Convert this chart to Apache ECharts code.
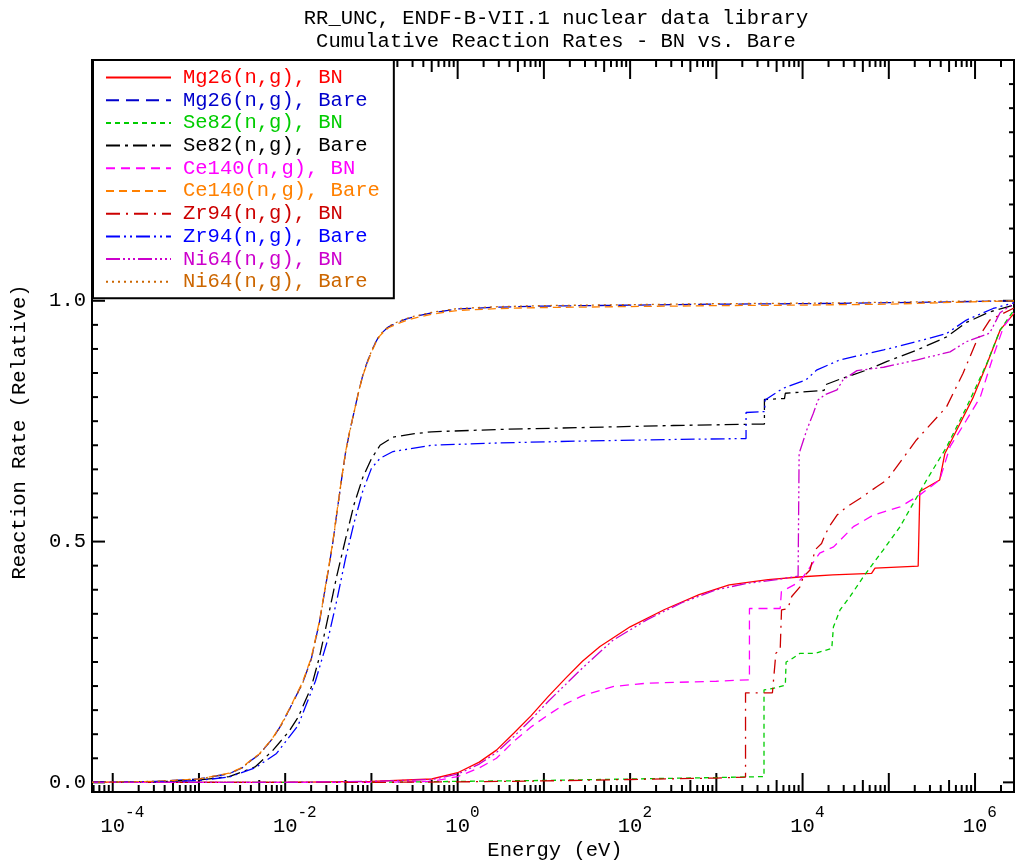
<!DOCTYPE html>
<html>
<head>
<meta charset="utf-8">
<title>Cumulative Reaction Rates - BN vs. Bare</title>
<script src="https://cdn.jsdelivr.net/npm/echarts@6/dist/echarts.min.js"></script>
<style>
html, body { margin: 0; padding: 0; background: #fff; }
#chart { width: 1015px; height: 864px; }
</style>
</head>
<body>
<div id="chart"></div>
<script>
// [energy (eV), cumulative relative reaction rate]
var mg26BN = [[5.75e-5,0],[1e-2,0],[0.1,0.002],[0.501,0.007],[1,0.02],[1.78,0.042],[2.82,0.067],[4.47,0.102],[7.08,0.138],[11.2,0.178],[17.8,0.216],[28.2,0.252],[44.7,0.282],[100,0.323],[251,0.359],[631,0.39],[1410,0.41],[3980,0.421],[1e4,0.427],[2.24e4,0.431],[6.31e4,0.434],[6.92e4,0.445],[2.19e5,0.449],[2.29e5,0.604],[3.89e5,0.628],[4.47e5,0.683],[9.55e5,0.80],[1.38e6,0.87],[1.95e6,0.939],[2.83e6,0.974]];
var mg26Bare = [[5.75e-5,0],[3.16e-4,0.002],[1e-3,0.007],[2.24e-3,0.018],[3.16e-3,0.03],[3.98e-3,0.045],[5.01e-3,0.058],[7.08e-3,0.09],[8.91e-3,0.118],[1.12e-2,0.152],[1.58e-2,0.205],[2.0e-2,0.255],[2.51e-2,0.335],[3.16e-2,0.44],[3.55e-2,0.495],[3.98e-2,0.56],[4.47e-2,0.625],[5.01e-2,0.685],[5.62e-2,0.73],[6.31e-2,0.77],[7.08e-2,0.81],[7.94e-2,0.845],[8.91e-2,0.872],[0.1,0.895],[0.112,0.914],[0.126,0.93],[0.158,0.946],[0.2,0.955],[0.251,0.962],[0.316,0.967],[0.501,0.975],[1,0.983],[3.16,0.987],[10,0.989],[100,0.991],[1e3,0.993],[1e4,0.994],[1e5,0.996],[6.31e5,0.998],[2.83e6,1.0]];
var se82BN = [[5.75e-5,0],[0.1,0],[1,0.002],[10,0.004],[100,0.007],[1e3,0.01],[3.57e3,0.012],[3.57e3,0.192],[4.57e3,0.195],[6.31e3,0.202],[6.44e3,0.25],[7.16e3,0.254],[9.33e3,0.268],[1.4e4,0.268],[2.18e4,0.278],[2.28e4,0.323],[2.72e4,0.358],[3.56e4,0.386],[5.07e4,0.427],[8.65e4,0.483],[1.35e5,0.531],[1.93e5,0.58],[2.75e5,0.628],[4.7e5,0.697],[8.02e5,0.78],[1.37e6,0.87],[1.95e6,0.939],[2.83e6,0.981]];
var se82Bare = [[5.75e-5,0],[3.16e-4,0.001],[1e-3,0.005],[2.24e-3,0.012],[4.47e-3,0.032],[7.08e-3,0.065],[1.12e-2,0.107],[1.41e-2,0.135],[2.0e-2,0.197],[2.51e-2,0.262],[3.16e-2,0.345],[3.55e-2,0.388],[3.98e-2,0.43],[5.01e-2,0.505],[6.31e-2,0.578],[7.94e-2,0.633],[0.1,0.672],[0.126,0.70],[0.178,0.717],[0.316,0.724],[0.501,0.728],[3.16,0.733],[31.6,0.737],[316,0.741],[3160,0.744],[3.61e3,0.744],[3.61e3,0.795],[6.17e3,0.797],[6.31e3,0.808],[1.78e4,0.814],[1.86e4,0.826],[2.69e4,0.837],[5.5e4,0.856],[9.55e4,0.874],[2.14e5,0.898],[4.68e5,0.925],[7.94e5,0.955],[1.48e6,0.977],[2.83e6,0.991]];
var ce140BN = [[5.75e-5,0],[0.1,0],[0.501,0.002],[1,0.012],[1.78,0.03],[2.82,0.05],[4.47,0.085],[7.08,0.115],[11.2,0.14],[17.8,0.163],[28.2,0.18],[63.1,0.199],[158,0.206],[1e3,0.21],[2.42e3,0.213],[2.42e3,0.361],[5.5e3,0.361],[5.68e3,0.396],[8.51e3,0.413],[1.02e4,0.427],[1.23e4,0.448],[1.58e4,0.476],[2.29e4,0.489],[3.89e4,0.531],[6.61e4,0.555],[1.35e5,0.572],[2.29e5,0.597],[3.89e5,0.628],[5.13e5,0.697],[7.94e5,0.752],[1.15e6,0.80],[1.62e6,0.884],[2.14e6,0.946],[2.83e6,0.975]];
var ce140Bare = [[5.75e-5,0],[3.16e-4,0.002],[1e-3,0.007],[2.24e-3,0.019],[3.16e-3,0.031],[3.98e-3,0.046],[5.01e-3,0.059],[7.08e-3,0.091],[8.91e-3,0.119],[1.12e-2,0.153],[1.58e-2,0.207],[2.0e-2,0.258],[2.51e-2,0.337],[3.16e-2,0.442],[3.55e-2,0.497],[3.98e-2,0.562],[4.47e-2,0.626],[5.01e-2,0.686],[5.62e-2,0.731],[6.31e-2,0.77],[7.08e-2,0.809],[7.94e-2,0.844],[8.91e-2,0.87],[0.1,0.893],[0.112,0.912],[0.126,0.928],[0.158,0.944],[0.2,0.952],[0.251,0.959],[0.316,0.964],[0.501,0.972],[1,0.98],[3.16,0.984],[10,0.986],[100,0.988],[1e3,0.99],[1e4,0.991],[1e5,0.993],[6.31e5,0.997],[2.83e6,1.0]];
var zr94BN = [[5.75e-5,0],[0.1,0],[1,0.001],[10,0.003],[100,0.006],[1e3,0.009],[2.18e3,0.011],[2.18e3,0.186],[4.47e3,0.186],[4.9e3,0.268],[5.5e3,0.275],[5.7e3,0.358],[6.76e3,0.361],[7.48e3,0.386],[9.33e3,0.406],[1.02e4,0.427],[1.22e4,0.441],[1.4e4,0.483],[1.66e4,0.496],[1.82e4,0.514],[2.09e4,0.534],[2.51e4,0.555],[3.24e4,0.572],[4.68e4,0.59],[7.24e4,0.614],[9.55e4,0.628],[2.09e5,0.711],[4.68e5,0.78],[7.24e5,0.849],[1.05e6,0.918],[1.48e6,0.96],[2.83e6,0.985]];
var zr94Bare = [[5.75e-5,0],[3.16e-4,0.001],[1e-3,0.004],[2.24e-3,0.011],[4.47e-3,0.03],[7.94e-3,0.06],[1.41e-2,0.118],[2.24e-2,0.21],[3.16e-2,0.30],[3.98e-2,0.379],[5.01e-2,0.465],[6.31e-2,0.54],[7.94e-2,0.605],[0.1,0.652],[0.126,0.673],[0.178,0.687],[0.501,0.70],[3.16,0.705],[31.6,0.709],[316,0.712],[2.21e3,0.714],[2.21e3,0.768],[3.63e3,0.77],[3.67e3,0.794],[5.89e3,0.818],[1.1e4,0.836],[1.45e4,0.856],[2.69e4,0.877],[8.71e4,0.898],[2.09e5,0.915],[4.68e5,0.932],[7.94e5,0.96],[1.62e6,0.984],[2.83e6,0.996]];
var ni64BN = [[5.75e-5,0],[1e-2,0],[0.1,0.002],[0.501,0.006],[1,0.017],[1.78,0.038],[2.82,0.062],[4.47,0.095],[7.08,0.13],[11.2,0.168],[17.8,0.203],[28.2,0.238],[63.1,0.295],[158,0.338],[398,0.373],[1e3,0.40],[2.24e3,0.413],[5.01e3,0.421],[8.87e3,0.428],[9.12e3,0.683],[1.12e4,0.732],[1.33e4,0.766],[1.51e4,0.794],[1.82e4,0.805],[2.51e4,0.815],[2.95e4,0.836],[4.27e4,0.855],[8.71e4,0.862],[2.09e5,0.877],[5.13e5,0.894],[7.94e5,0.915],[1.48e6,0.933],[1.95e6,0.975],[2.83e6,0.995]];
var ni64Bare = [[5.75e-5,0],[3.16e-4,0.002],[1e-3,0.007],[2.24e-3,0.018],[3.16e-3,0.03],[3.98e-3,0.045],[5.01e-3,0.058],[7.08e-3,0.09],[8.91e-3,0.117],[1.12e-2,0.151],[1.58e-2,0.204],[2.0e-2,0.254],[2.51e-2,0.334],[3.16e-2,0.439],[3.55e-2,0.494],[3.98e-2,0.559],[4.47e-2,0.624],[5.01e-2,0.684],[5.62e-2,0.729],[6.31e-2,0.769],[7.08e-2,0.81],[7.94e-2,0.845],[8.91e-2,0.872],[0.1,0.895],[0.112,0.914],[0.126,0.93],[0.158,0.947],[0.2,0.956],[0.251,0.963],[0.316,0.968],[0.501,0.976],[1,0.984],[3.16,0.988],[10,0.99],[100,0.992],[1e3,0.994],[1e4,0.995],[1e5,0.997],[6.31e5,0.999],[2.83e6,1.0]];

var seriesNames = ['Mg26(n,g), BN', 'Mg26(n,g), Bare', 'Se82(n,g), BN', 'Se82(n,g), Bare', 'Ce140(n,g), BN',
                   'Ce140(n,g), Bare', 'Zr94(n,g), BN', 'Zr94(n,g), Bare', 'Ni64(n,g), BN', 'Ni64(n,g), Bare'];
var seriesData = [mg26BN, mg26Bare, se82BN, se82Bare, ce140BN, ce140Bare, zr94BN, zr94Bare, ni64BN, ni64Bare];
var seriesColors = ['#ff0000', '#0000cc', '#00cc00', '#000000', '#ff00ff', '#ff8000', '#cc0000', '#0000ff', '#cc00cc', '#cc6600'];
var seriesDash = ['solid', [13, 7], [5, 4], [14, 5, 3, 5], [9, 6], [8, 5], [14, 6, 2, 6],
                  [14, 4, 2, 4, 2, 4], [14, 3, 2, 3, 2, 3, 2, 3], [2, 4]];

// axis extents and tick labels
var xMin = 5.75e-5, xMax = 2.83e6;
var yMin = -0.02, yMax = 1.5;
var xLabelExp = [-4, -2, 0, 2, 4, 6];
var yLabelValues = [0, 0.5, 1.0];

var FONT = "'Liberation Mono', 'DejaVu Sans Mono', monospace";
var lx = Math.log10(xMin), hx = Math.log10(xMax);

// frame tick positions: energies on the x frame, rates on the y frame
var xTicks = [], yTicks = [];
for (var d = -5; d <= 6; d++) {
    for (var k = 1; k <= 9; k++) {
        var e = k * Math.pow(10, d);
        if (e > xMin && e < xMax) xTicks.push({ e: e, len: k === 1 ? 19 : (k === 5 ? 12 : 7) });
    }
}
for (var i = 0; i < 30; i++) {
    yTicks.push({ v: i * 0.05, major: i % 10 === 0 });
}

var chart = echarts.init(document.getElementById('chart'), null, { renderer: 'canvas' });

chart.setOption({
    animation: false,
    backgroundColor: '#fff',
    grid: { left: 92, top: 60, right: 1, bottom: 72, show: true, borderColor: '#000', borderWidth: 2,
            backgroundColor: 'transparent', outerBoundsMode: 'none' },
    xAxis: [
        { type: 'log', min: xMin, max: xMax, show: false, axisLine: { onZero: false } },
        {
            type: 'value', position: 'bottom', min: lx, max: hx,
            axisLine: { show: false, onZero: false },
            axisTick: { show: false },
            splitLine: { show: false },
            axisLabel: {
                customValues: xLabelExp, margin: 13, color: '#000',
                formatter: function (val) {
                    var s = String(Math.round(val));
                    return '{p' + s.length + '|}{b|10}{s|' + s + '}';
                },
                rich: {
                    b: { fontFamily: FONT, fontSize: 20.5, lineHeight: 32, verticalAlign: 'bottom', color: '#000' },
                    s: { fontFamily: FONT, fontSize: 16, lineHeight: 16, verticalAlign: 'top', color: '#000' },
                    p1: { width: 9.6 },
                    p2: { width: 19.2 }
                }
            }
        }
    ],
    yAxis: [{
        type: 'value', position: 'left', min: yMin, max: yMax,
        axisLine: { show: false, onZero: false },
        axisTick: { show: false },
        splitLine: { show: false },
        axisLabel: {
            customValues: yLabelValues, margin: 6, color: '#000',
            fontFamily: FONT, fontSize: 20.5,
            formatter: function (val) { return val.toFixed(1); }
        }
    }],
    legend: {
        orient: 'vertical', left: 93, top: 60, padding: [7, 14, 6, 12],
        itemGap: 1.7, itemWidth: 65, itemHeight: 14,
        backgroundColor: '#fff', borderColor: '#000', borderWidth: 2, borderRadius: 0,
        selectedMode: false,
        itemStyle: { opacity: 0 },
        textStyle: { fontFamily: FONT, fontSize: 20.5, lineHeight: 20, padding: [0, 0, 0, 7] },
        data: seriesNames.map(function (n, i) {
            return { name: n, textStyle: { color: seriesColors[i] } };
        })
    },
    series: seriesData.map(function (d, i) {
        return {
            name: seriesNames[i], type: 'line', data: d,
            xAxisIndex: 0, yAxisIndex: 0,
            symbol: 'none', showSymbol: false, silent: true,
            itemStyle: { color: seriesColors[i] },
            lineStyle: { color: seriesColors[i], width: 1.3, type: seriesDash[i] }
        };
    })
});

// texts and frame ticks, placed with the chart's own axis conversion (lengths in pixels)
var finder = { xAxisIndex: 0, yAxisIndex: 0 };
var overlay = [];
function textEl(x, y, str, rot) {
    overlay.push({ type: 'text', x: x, y: y, rotation: rot || 0,
                   style: { text: str, fontFamily: FONT, fontSize: 20.5, fill: '#000',
                            align: 'center', verticalAlign: 'middle' } });
}
function seg(x1, y1, x2, y2) {
    overlay.push({ type: 'line', shape: { x1: x1, y1: y1, x2: x2, y2: y2 },
                   style: { stroke: '#000', lineWidth: 2 } });
}
textEl(556, 19, 'RR_UNC, ENDF-B-VII.1 nuclear data library');
textEl(556, 42, 'Cumulative Reaction Rates - BN vs. Bare');
textEl(555, 851, 'Energy (eV)');
textEl(20, 432, 'Reaction Rate (Relative)', Math.PI / 2);

xTicks.forEach(function (t) {
    var b = chart.convertToPixel(finder, [t.e, yMin]);
    var tp = chart.convertToPixel(finder, [t.e, yMax]);
    seg(b[0], b[1], b[0], b[1] - t.len);
    seg(tp[0], tp[1], tp[0], tp[1] + t.len);
});
yTicks.forEach(function (t) {
    var l = chart.convertToPixel(finder, [xMin, t.v]);
    var r = chart.convertToPixel(finder, [xMax, t.v]);
    seg(l[0], l[1], l[0] + (t.major ? 13 : 6), l[1]);
    seg(r[0], r[1], r[0] - (t.major ? 11 : 5), r[1]);
});

chart.setOption({ graphic: overlay });
</script>
</body>
</html>
